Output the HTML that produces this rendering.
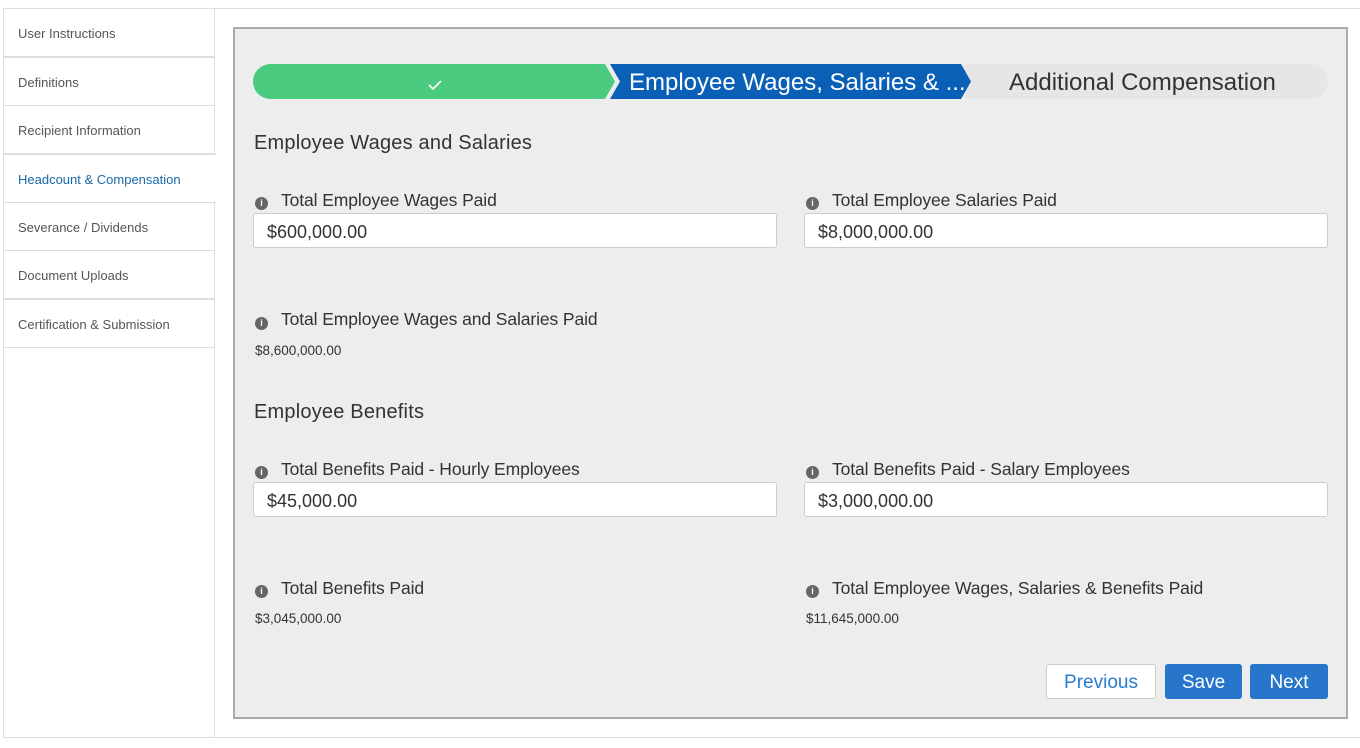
<!DOCTYPE html>
<html><head><style>
*{box-sizing:border-box;margin:0;padding:0}
body{width:1360px;height:748px;background:#fff;font-family:"Liberation Sans",sans-serif;position:relative;overflow:hidden;color:#333}
.a{position:absolute}
.item{position:absolute;left:3px;width:212px;height:49px;border:1px solid #ddd;font-size:13px;color:#555;padding-left:14px;line-height:50px;background:#fff}
.item.act{color:#1a6aa8;border-right:none;width:213px}
.lbl{position:absolute;font-size:17.5px;color:#333;white-space:nowrap;letter-spacing:-0.1px}
.ic{position:absolute;width:13px;height:13px;border-radius:50%;background:#666;color:#fff;font-size:9px;font-weight:bold;text-align:center;line-height:13px}
.inp{position:absolute;height:35px;width:524px;background:#fff;border:1px solid #ccc;border-radius:3px;font-size:18px;padding-left:13px;line-height:36px;color:#333}
.val{position:absolute;font-size:13.5px;color:#333}
.h{position:absolute;font-size:20px;color:#333;letter-spacing:0.2px}
.btn{position:absolute;top:664px;height:35px;border-radius:3px;font-size:19px;text-align:center;line-height:37px}
</style></head><body>
<div class="a" style="left:3px;top:8px;width:1357px;height:1px;background:#ddd"></div>
<div class="a" style="left:3px;top:737px;width:1357px;height:1px;background:#ddd"></div>
<div class="a" style="left:3px;top:8px;width:1px;height:730px;background:#ddd"></div>
<div class="a" style="left:214px;top:8px;width:1px;height:730px;background:#ddd"></div>
<div class="item" style="top:8px">User Instructions</div>
<div class="item" style="top:57px">Definitions</div>
<div class="item" style="top:105px">Recipient Information</div>
<div class="item act" style="top:154px">Headcount &amp; Compensation</div>
<div class="item" style="top:202px">Severance / Dividends</div>
<div class="item" style="top:250px">Document Uploads</div>
<div class="item" style="top:299px">Certification &amp; Submission</div>

<div class="a" style="left:233px;top:27px;width:1115px;height:692px;background:#ededed;border:2px solid #aaa"></div>

<svg class="a" style="left:253px;top:64px" width="1076" height="36">
<rect x="700" y="0" width="375" height="35" rx="17.5" fill="#e6e6e6"/>
<path d="M17.5,0 H352 L362,17.5 L352,35 H17.5 A17.5,17.5 0 0 1 17.5,0 Z" fill="#4bcb80"/>
<path d="M357,0 H708 L718,17.5 L708,35 H357 L367,17.5 Z" fill="#0a60b6"/>
<path d="M176,21 l4,4 l8,-8" stroke="#fff" stroke-width="1.6" fill="none"/>
</svg>
<div class="a" style="left:629px;top:69px;font-size:24px;color:#fff;white-space:nowrap">Employee Wages, Salaries &amp; ...</div>
<div class="a" style="left:1009px;top:69px;font-size:24px;color:#333;white-space:nowrap">Additional Compensation</div>

<div class="h" style="left:254px;top:132px">Employee Wages and Salaries</div>
<div class="ic" style="left:255px;top:197px">i</div><div class="lbl" style="left:281px;top:190px">Total Employee Wages Paid</div>
<div class="inp" style="left:253px;top:213px">$600,000.00</div>
<div class="ic" style="left:806px;top:197px">i</div><div class="lbl" style="left:832px;top:190px">Total Employee Salaries Paid</div>
<div class="inp" style="left:804px;top:213px">$8,000,000.00</div>
<div class="ic" style="left:255px;top:317px">i</div><div class="lbl" style="left:281px;top:309px">Total Employee Wages and Salaries Paid</div>
<div class="val" style="left:255px;top:343px">$8,600,000.00</div>

<div class="h" style="left:254px;top:401px">Employee Benefits</div>
<div class="ic" style="left:255px;top:466px">i</div><div class="lbl" style="left:281px;top:459px">Total Benefits Paid - Hourly Employees</div>
<div class="inp" style="left:253px;top:482px">$45,000.00</div>
<div class="ic" style="left:806px;top:466px">i</div><div class="lbl" style="left:832px;top:459px">Total Benefits Paid - Salary Employees</div>
<div class="inp" style="left:804px;top:482px">$3,000,000.00</div>
<div class="ic" style="left:255px;top:585px">i</div><div class="lbl" style="left:281px;top:578px">Total Benefits Paid</div>
<div class="val" style="left:255px;top:611px">$3,045,000.00</div>
<div class="ic" style="left:806px;top:585px">i</div><div class="lbl" style="left:832px;top:578px">Total Employee Wages, Salaries &amp; Benefits Paid</div>
<div class="val" style="left:806px;top:611px">$11,645,000.00</div>

<div class="btn" style="left:1046px;width:110px;background:#fff;border:1px solid #ccc;color:#2a7ad0;line-height:35px">Previous</div>
<div class="btn" style="left:1165px;width:77px;background:#2776cc;color:#fff">Save</div>
<div class="btn" style="left:1250px;width:78px;background:#2776cc;color:#fff">Next</div>
</body></html>
